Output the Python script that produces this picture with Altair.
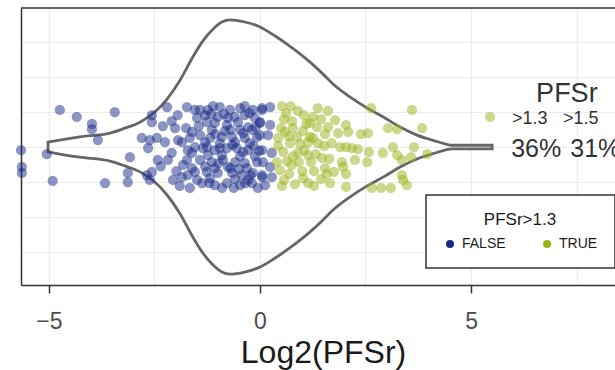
import altair as alt
import pandas as pd

# ---------------- data ----------------
# Jittered points, PFSr <= 1.3 (FALSE)
false_log2 = [
    -5.66, -5.64, -5.64, -5.05, -4.91, -4.74, -4.34, -3.98, -3.98, -3.84, -3.44, -3.67,
    -2.56, -2.56, -2.20, -2.09, -1.73, -1.54, -1.49, -2.01,
    -2.80, -2.61, -2.44, -2.25, -1.94, -1.85, -1.66,
    -2.65, -2.09, -3.08, -2.42, -2.18, -1.73, -1.61,
    -3.13, -3.13, -2.68, -2.61, -2.56, -2.06, -1.85, -1.71, -1.54, -1.49,
    -1.75, -1.61, -1.71, -1.54, -1.82, -1.61, -1.90, -1.66,
    -1.42, -1.23, -0.95, -0.71, -0.47, -0.17, 0.05,
    -1.26, -1.07, -0.78, -0.52, -0.28, 0.00,
    -1.42, -1.18, -0.90, -0.66, -0.36, -0.07,
    -1.35, -1.07, -0.78, -0.55, -0.28, 0.05,
    -1.42, -1.14, -0.88, -0.59, -0.36, -0.07,
    -1.26, -1.00, -0.66, -0.43, -0.17, 0.05,
    -1.37, -1.07, -0.78, -0.47, -0.19,
    -1.30, -1.00, -0.76, -0.36, -0.12, -1.14, -0.83, -0.47, -0.19,
    -1.30, -0.95, -0.59, -0.24, -1.23, -0.90, -0.47, -0.12,
    -1.07, -0.76, -0.31, -1.18, -0.59, -0.28, -0.90, -0.05, -0.36, -1.11,
    0.05, 0.24, 0.00, 0.24, 0.00, 0.19, -0.02, 0.28, 0.07, 0.24, 0.05, 0.28, 0.12,
    -1.45, -1.15, -0.85, -0.60, -0.25, -1.05, -0.70, -0.40, -0.10,
    -1.25, -0.95, -0.65, -0.40, -0.15, -1.30, -0.98, -0.70, -0.50, -0.22,
    -1.20, -0.62, -0.35, -2.30, -2.35, -1.95, -1.98,
]
false_jitter = [
    -0.09, -0.57, -0.74, -0.20, -0.97, 1.06, 0.86, 0.66, 0.51, 0.20, 1.00, -1.03,
    0.91, 0.71, 1.14, 0.74, 1.14, 1.06, 0.83, 0.54,
    0.26, 0.20, 0.26, 0.14, 0.20, 0.14, 0.26,
    -0.03, -0.17, -0.29, -0.37, -0.37, -0.37, -0.17,
    -0.74, -1.00, -0.80, -0.94, -0.71, -0.94, -0.86, -0.80, -0.71, -0.94,
    0.54, 0.43, -0.09, 0.00, -0.51, -0.60, -1.11, -1.17,
    1.06, 1.06, 1.14, 1.06, 1.11, 1.06, 1.06,
    0.71, 0.69, 0.63, 0.71, 0.57, 0.69,
    0.34, 0.26, 0.29, 0.29, 0.26, 0.29,
    -0.03, -0.09, -0.03, -0.03, -0.09, -0.09,
    -0.37, -0.43, -0.37, -0.43, -0.46, -0.43,
    -0.71, -0.74, -0.74, -0.80, -0.74, -0.86,
    -1.03, -1.09, -1.03, -1.09, -1.03,
    0.91, 0.86, 0.83, 0.91, 0.83, 0.49, 0.46, 0.49, 0.49,
    0.14, 0.11, 0.14, 0.11, -0.23, -0.23, -0.26, -0.26,
    -0.60, -0.57, -0.60, -0.89, -0.91, -0.94, -1.17, -1.17, 1.17, 1.17,
    1.11, 1.14, 0.71, 0.63, 0.34, 0.34, -0.11, -0.17, -0.43, -0.57, -0.80, -0.86, -1.09,
    0.60, 0.95, 0.95, 0.86, 0.97, 0.37, 0.50, 0.40, 0.57,
    0.00, -0.03, 0.06, -0.14, 0.03, -0.55, -0.46, -0.60, -0.63, -0.80,
    -1.03, -1.17, -1.03, 0.60, -0.55, 0.91, -0.69,
]

# Jittered points, PFSr > 1.3 (TRUE)
true_log2 = [
    0.52, 0.73, 1.04, 0.57, 0.76, 1.26, 1.18, 1.37, 1.45, 0.50,
    0.59, 0.78, 1.02, 1.35, 1.61, 1.54, 0.95, 1.14, 1.37, 1.52,
    0.40, 0.64, 0.90, 1.14, 0.92, 1.21, 1.47, 1.54, 0.69, 1.00, 1.28,
    0.83, 1.14, 1.45, 1.66, 0.43, 0.43, 0.71, 0.47, 0.57, 1.18,
    1.61, 1.78, 2.04, 1.85, 2.09, 2.39, 2.56, 2.63, 3.03, 3.25, 3.60, 3.84, 5.45,
    1.90, 2.04, 2.18, 2.32, 2.58, 2.91, 3.15, 3.65, 3.96,
    1.64, 1.94, 1.97, 2.25, 2.54, 3.25, 3.36, 3.58, 1.75, 2.04, 2.04,
    2.65, 2.87, 3.10, 3.36, 3.39, 3.48,
    0.62, 0.90, 1.10, 0.68, 0.88, 1.25, 0.55, 0.78, 1.05, 1.32,
    0.52, 1.02, 1.28, 0.75, 1.58, 1.70,
]
true_jitter = [
    1.17, 1.17, 0.91, 0.80, 0.74, 0.86, 0.69, 1.11, 0.80, 0.54,
    0.43, 0.54, 0.46, 0.57, 0.57, 0.37, 0.09, 0.14, 0.11, 0.03,
    -0.43, -0.40, -0.17, -0.23, -0.43, -0.43, -0.31, -0.60, -0.77, -0.69, -0.69,
    -1.06, -1.03, -0.91, -1.03, 0.26, 0.03, 0.11, -0.66, -0.94, 0.29,
    1.03, 0.77, 0.63, 0.40, 0.43, 0.37, 0.40, 1.11, 0.54, 0.51, 1.06, 0.54, 0.86,
    0.00, 0.00, -0.03, -0.06, -0.14, -0.17, 0.00, 0.00, -0.20,
    -0.34, -0.43, -0.57, -0.37, -0.43, -0.23, -0.37, -0.29, -0.71, -0.77, -1.14,
    -1.17, -1.17, -1.17, -0.80, -0.94, -1.09,
    0.97, 1.03, 0.66, 0.31, 0.29, 0.26, -0.14, -0.26, -0.09, -0.20,
    -1.11, -0.89, -1.11, -0.51, -0.77, 0.11,
]

# Violin outline: log2 position and half-width
violin_log2 = [-5.02, -4.74, -4.27, -3.55, -3.20, -2.84, -2.49, -2.20, -1.90, -1.59,
               -1.35, -1.11, -0.90, -0.71, -0.36, 0.00, 0.36, 0.64, 0.95, 1.18,
               1.47, 1.73, 2.13, 2.54, 2.96, 3.32, 3.72, 4.10, 4.38, 4.55, 4.98, 5.50]
violin_half = [0.14, 0.20, 0.29, 0.40, 0.54, 0.71, 1.00, 1.37, 1.89, 2.57,
               3.03, 3.37, 3.57, 3.63, 3.57, 3.43, 3.17, 2.94, 2.66, 2.43,
               2.11, 1.80, 1.43, 1.11, 0.83, 0.57, 0.34, 0.19, 0.09, 0.05, 0.05, 0.05]

groups = ["FALSE", "TRUE"]
group_colors = ["#172a85", "#9cb21a"]
x_grid = [-5, -2.5, 0, 2.5, 5, 7.5]
y_grid = [-3, -2, -1, 0, 1, 2, 3]
x_title = "Log2(PFSr)"
legend_title = "PFSr>1.3"

assert len(false_log2) == len(false_jitter)
assert len(true_log2) == len(true_jitter)

pts = pd.DataFrame({
    "log2": false_log2 + true_log2,
    "jit": false_jitter + true_jitter,
    "grp": [groups[0]] * len(false_log2) + [groups[1]] * len(true_log2),
})
vio = pd.DataFrame({
    "log2": violin_log2,
    "hi": violin_half,
    "lo": [-h for h in violin_half],
})
one = pd.DataFrame({"a": [0]})

FONT = "Liberation Sans"
W, H = 594, 277

xscale = alt.Scale(domain=[-5.66, 8.41], nice=False, zero=False)
yscale = alt.Scale(domain=[-3.94, 3.97], nice=False, zero=False)

xaxis = alt.Axis(
    values=x_grid,
    labelExpr="datum.value % 5 == 0 ? format(datum.value, 'd') : ''",
    tickOpacity={"condition": {"test": "datum.value % 5 != 0", "value": 0}, "value": 1},
    grid=True,
    title=x_title,
    titleFontSize=32,
    titleFontWeight="normal",
    titleColor="#1a1a1a",
    titleX=302,
    titleY=77,
    titleAlign="center",
    titleBaseline="alphabetic",
)
yaxis = alt.Axis(values=y_grid, labels=False, ticks=False, domain=True, grid=True, title=None)

X = alt.X("log2:Q", scale=xscale, axis=xaxis)
Y = alt.Y("hi:Q", scale=yscale, axis=yaxis)

violin = alt.Chart(vio).mark_area(
    interpolate="monotone", fill="transparent", stroke="#666666", strokeWidth=2.8
).encode(x=X, y=Y, y2="lo:Q")

points = alt.Chart(pts).mark_circle(size=105, opacity=0.5).encode(
    x=X,
    y=alt.Y("jit:Q", scale=yscale, axis=yaxis),
    color=alt.Color(
        "grp:N",
        scale=alt.Scale(domain=groups, range=group_colors),
        legend=alt.Legend(title=legend_title),
    ),
)

top_border = alt.Chart(one).mark_rule(color="#333333", strokeWidth=1.5).encode(
    x=alt.value(0), x2=alt.value(W), y=alt.value(0)
)

def ann(txt, xv, yv, size, align):
    return alt.Chart(one).mark_text(
        text=txt, fontSize=size, color="#333333", align=align,
        baseline="alphabetic", font=FONT,
    ).encode(x=alt.datum(xv), y=alt.datum(yv))

annotations = [
    ann("PFSr", 7.27, 1.29, 27, "center"),
    ann(">1.3", 5.97, 0.66, 18, "left"),
    ann(">1.5", 7.18, 0.66, 18, "left"),
    ann("36%", 5.95, -0.29, 25, "left"),
    ann("31%", 7.35, -0.29, 25, "left"),
]

chart = alt.layer(violin, points, top_border, *annotations).properties(
    width=W,
    height=H,
    padding={"left": 21, "top": 8, "right": 0, "bottom": 85},
    autosize=alt.AutoSizeParams(type="none"),
    background="white",
).configure_view(
    stroke=None
).configure_axis(
    gridColor="#ebebeb",
    gridWidth=1.2,
    domainColor="#333333",
    domainWidth=1.5,
    tickColor="#333333",
    tickWidth=1.5,
    tickSize=8,
    labelFont=FONT,
    labelFontSize=23,
    labelColor="#4d4d4d",
    labelPadding=17,
    titleFont=FONT,
).configure_legend(
    orient="none",
    legendX=405,
    legendY=187,
    direction="horizontal",
    titleAnchor="middle",
    titleFont=FONT,
    titleFontSize=17,
    titleFontWeight="normal",
    titleColor="#1a1a1a",
    titlePadding=8,
    labelFont=FONT,
    labelFontSize=14,
    labelColor="#1a1a1a",
    labelOffset=5,
    symbolType="circle",
    symbolSize=64,
    symbolOpacity=1,
    symbolStrokeWidth=0,
    columnPadding=34,
    padding=17,
    strokeColor="#333333",
    strokeWidth=1.5,
    fillColor="white",
)

chart.save("out.html", embed_options={"renderer": "svg", "actions": False})
